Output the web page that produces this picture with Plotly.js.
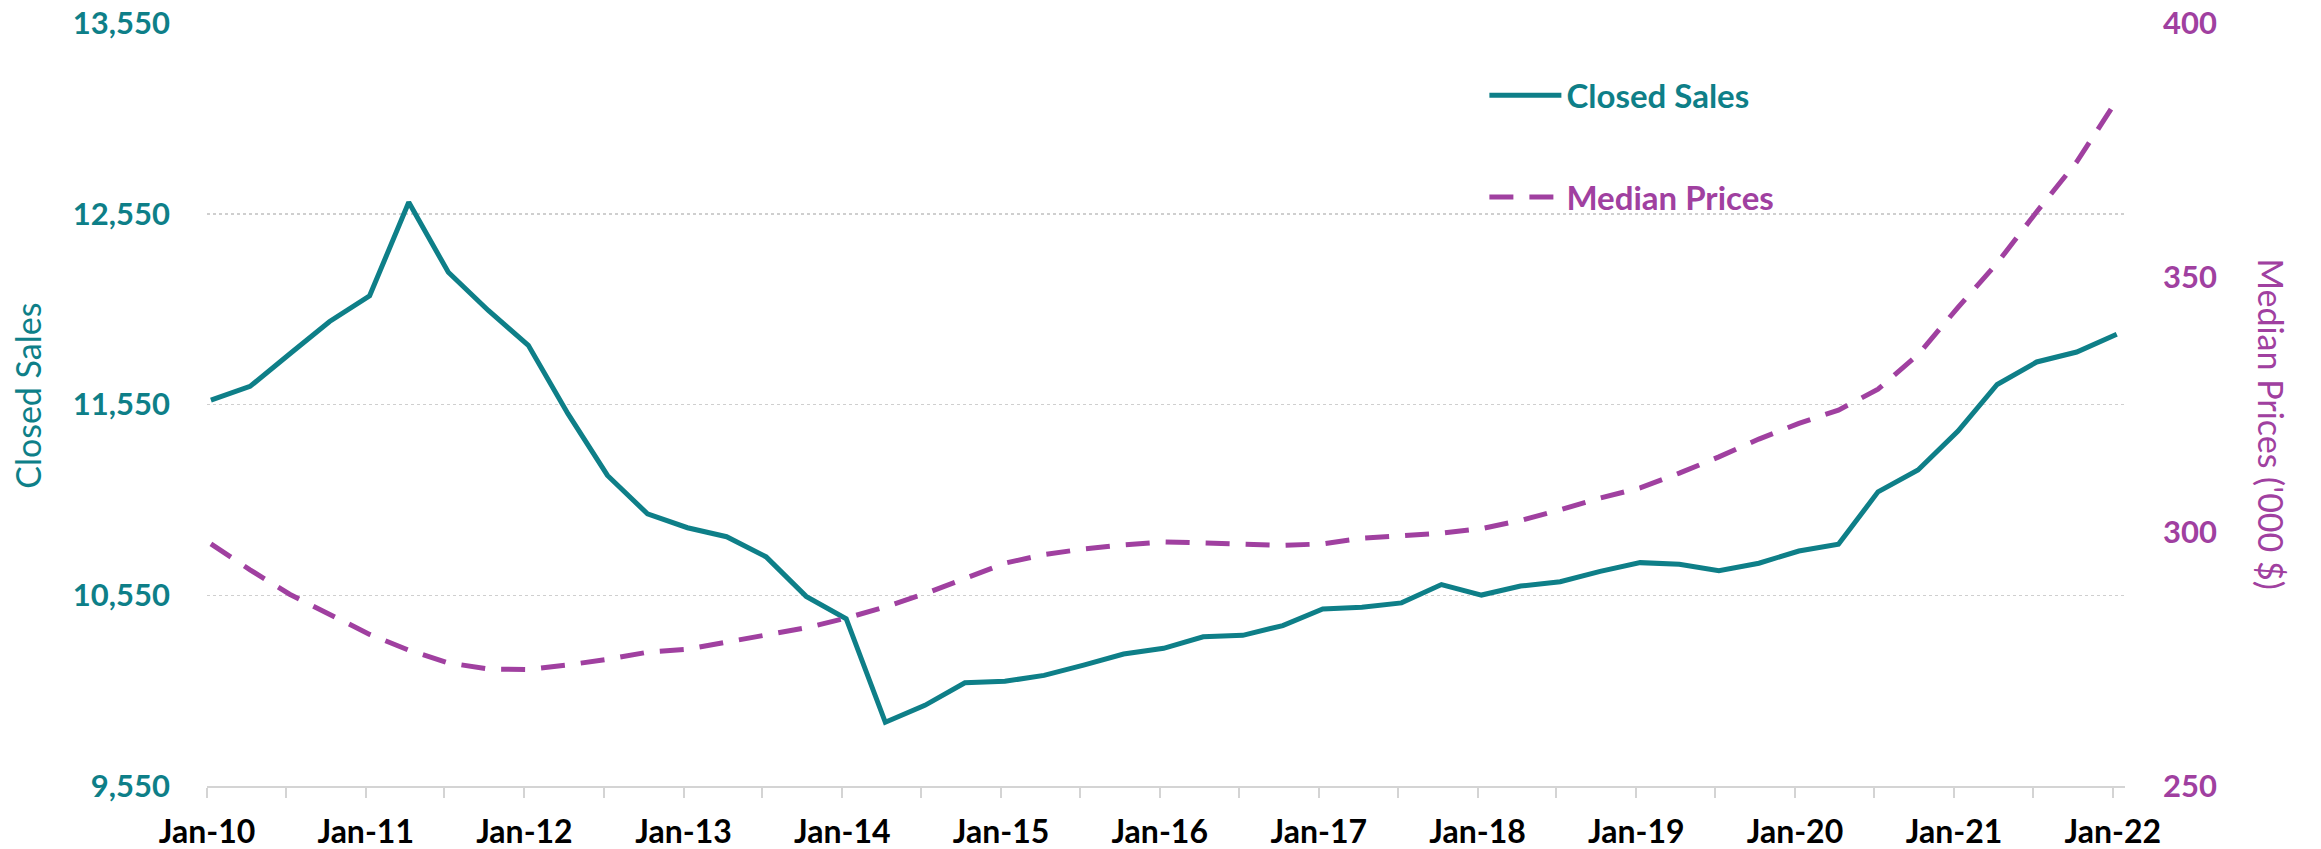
<!DOCTYPE html>
<html>
<head>
<meta charset="utf-8">
<script src="https://cdn.plot.ly/plotly-3.0.1.min.js"></script>
<style>
  body { margin: 0; background: #fff; }
  #plot { width: 2321px; height: 849px; }
</style>
</head>
<body>
<div id="plot"></div>
<script>
// quarterly observations, Jan-10 .. Jan-22
var quarters = [
  "2010-01-10", "2010-04-10", "2010-07-10", "2010-10-10",
  "2011-01-10", "2011-04-10", "2011-07-10", "2011-10-10",
  "2012-01-10", "2012-04-10", "2012-07-10", "2012-10-10",
  "2013-01-10", "2013-04-10", "2013-07-10", "2013-10-10",
  "2014-01-10", "2014-04-10", "2014-07-10", "2014-10-10",
  "2015-01-10", "2015-04-10", "2015-07-10", "2015-10-10",
  "2016-01-10", "2016-04-10", "2016-07-10", "2016-10-10",
  "2017-01-10", "2017-04-10", "2017-07-10", "2017-10-10",
  "2018-01-10", "2018-04-10", "2018-07-10", "2018-10-10",
  "2019-01-10", "2019-04-10", "2019-07-10", "2019-10-10",
  "2020-01-10", "2020-04-10", "2020-07-10", "2020-10-10",
  "2021-01-10", "2021-04-10", "2021-07-10", "2021-10-10",
  "2022-01-10"
];

var closedSales = [
  11573, 11645, 11815, 11985,
  12120, 12610, 12243, 12043,
  11860, 11502, 11178, 10977,
  10904, 10857, 10751, 10544,
  10427, 9884, 9973, 10091,
  10099, 10130, 10184, 10242,
  10272, 10332, 10340, 10391,
  10478, 10487, 10510, 10606,
  10551, 10598, 10621, 10675,
  10721, 10712, 10679, 10718,
  10782, 10817, 11092, 11207,
  11411, 11655, 11773, 11825,
  11918
];

// median prices, '000 $
var medianPrices = [
  297.6, 292.5, 287.7, 283.7,
  279.8, 276.7, 274.2, 273.0,
  272.9, 273.8, 274.9, 276.3,
  276.9, 278.3, 279.8, 281.1,
  283.0, 285.2, 287.8, 290.8,
  293.8, 295.5, 296.6, 297.4,
  298.0, 297.8, 297.5, 297.3,
  297.6, 298.7, 299.2, 299.7,
  300.6, 302.2, 304.3, 306.6,
  308.6, 311.5, 314.7, 318.2,
  321.3, 323.9, 328.0, 334.8,
  344.1, 352.8, 362.9, 372.7,
  384.8
];

var teal = "#0E7F88";
var purple = "#A040A0";
var font = "Lato, 'Open Sans', sans-serif";

var salesTrace = {
  x: quarters,
  y: closedSales,
  name: "<span style='color:" + teal + "'>Closed Sales</span>",
  type: "scatter",
  mode: "lines",
  legendgroup: "a",
  line: { color: teal, width: 5 },
  yaxis: "y"
};

var priceTrace = {
  x: quarters,
  y: medianPrices,
  name: "<span style='color:" + purple + "'>Median Prices</span>",
  type: "scatter",
  mode: "lines",
  legendgroup: "b",
  line: { color: purple, width: 5, dash: "24px,16px" },
  yaxis: "y2"
};

var layout = {
  width: 2321,
  height: 849,
  paper_bgcolor: "#fff",
  plot_bgcolor: "#fff",
  margin: { l: 207, r: 196, t: 23, b: 63 },
  font: { family: font, size: 31, color: "#000" },
  showlegend: true,
  legend: {
    x: 0.666, y: 0.942, xanchor: "left", yanchor: "top",
    font: { family: font, size: 33, weight: "bold" },
    tracegroupgap: 56,
    itemwidth: 72,
    bgcolor: "rgba(0,0,0,0)"
  },
  xaxis: {
    type: "date",
    range: ["2010-01-01", "2022-01-29"],
    tick0: "2010-01-01",
    dtick: "M12",
    tickformat: "%b-%y",
    ticks: "outside",
    ticklen: 10,
    tickwidth: 2,
    tickcolor: "#d4d4d4",
    showline: true,
    linecolor: "#d4d4d4",
    linewidth: 2,
    showgrid: false,
    zeroline: false,
    ticklabelstandoff: 7,
    tickfont: { family: font, size: 32, color: "#000", weight: "bold" },
    minor: { dtick: "M6", ticks: "outside", ticklen: 10, tickwidth: 2, tickcolor: "#d4d4d4", showgrid: false }
  },
  yaxis: {
    range: [9550, 13550],
    tick0: 9550,
    dtick: 1000,
    tickformat: ",d",
    showgrid: true,
    gridcolor: "#cfcfcf",
    griddash: "dot",
    gridwidth: 1.5,
    zeroline: false,
    showline: false,
    ticks: "",
    ticklabelstandoff: 36,
    tickfont: { family: font, size: 31, color: teal, weight: "bold" }
  },
  yaxis2: {
    overlaying: "y",
    side: "right",
    range: [250, 400],
    tick0: 250,
    dtick: 50,
    showgrid: false,
    zeroline: false,
    showline: false,
    ticks: "",
    ticklabelstandoff: 37,
    tickfont: { family: font, size: 31, color: purple, weight: "bold" }
  },
  annotations: [
    {
      text: "Closed Sales", xref: "paper", yref: "paper",
      x: -0.094, y: 0.511, xanchor: "center", yanchor: "middle",
      textangle: -90, showarrow: false,
      font: { family: font, size: 34, color: teal }
    },
    {
      text: "Median Prices ('000 $)", xref: "paper", yref: "paper",
      x: 1.0766, y: 0.474, xanchor: "center", yanchor: "middle",
      textangle: 90, showarrow: false,
      font: { family: font, size: 34, color: purple }
    }
  ]
};

Plotly.newPlot("plot", [salesTrace, priceTrace], layout, { staticPlot: true });
</script>
</body>
</html>
